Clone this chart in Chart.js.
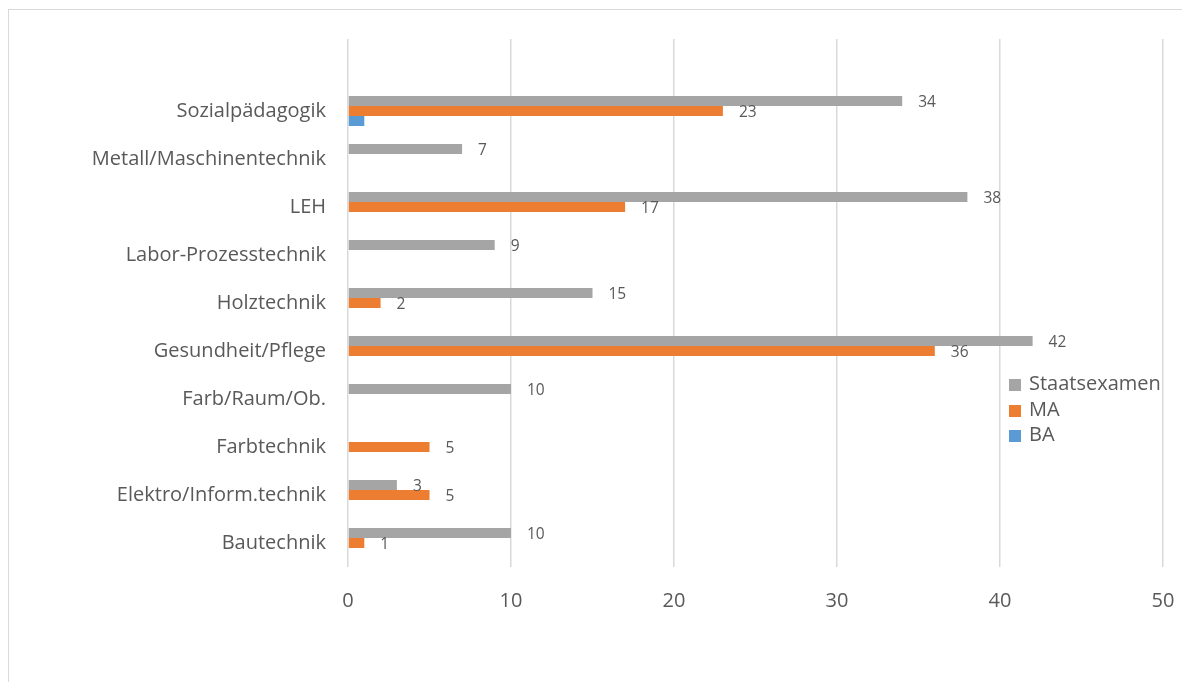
<!DOCTYPE html>
<html>
<head>
<meta charset="utf-8">
<script src="https://cdn.jsdelivr.net/npm/chart.js@4"></script>
<style>
  html, body { margin: 0; padding: 0; background: #fff; }
  .wrap { position: relative; width: 1182px; height: 682px; overflow: hidden; }
  .frame { position: absolute; left: 8px; top: 9px; right: -5px; bottom: -5px;
           border-top: 1px solid #d9d9d9; border-left: 1px solid #d9d9d9; }
  canvas { position: absolute; left: 0; top: 0; }
  .legend { position: absolute; left: 1009px; top: 370px; font-family: "Open Sans", sans-serif;
            font-size: 20px; color: #595959; }
  .legend div { height: 25.5px; line-height: 25.5px; white-space: nowrap; }
  .legend span { display: inline-block; width: 12px; height: 12px; margin-right: 8px;
                 vertical-align: -1px; }
</style>
</head>
<body>
<div class="wrap">
  <div class="frame"></div>
  <canvas id="chart" width="1182" height="682"></canvas>
  <div class="legend" id="legend"></div>
</div>
<script>
// Fächer von oben nach unten (erste Zeile bleibt leer)
const categories = ['', 'Sozialpädagogik', 'Metall/Maschinentechnik', 'LEH', 'Labor-Prozesstechnik',
    'Holztechnik', 'Gesundheit/Pflege', 'Farb/Raum/Ob.', 'Farbtechnik', 'Elektro/Inform.technik', 'Bautechnik'];
const staatsexamen = [null, 34, 7, 38, 9, 15, 42, 10, null, 3, 10];
const ma = [null, 23, null, 17, null, 2, 36, null, 5, 5, 1];
const ba = [null, 1, null, null, null, null, null, null, null, null, null];
const xTicks = [0, 10, 20, 30, 40, 50];

const textColor = '#595959';
const font = '"Open Sans", sans-serif';

// Werte rechts neben die Balken schreiben
const valueLabels = {
    id: 'valueLabels',
    afterDatasetsDraw(chart) {
        const ctx = chart.ctx;
        ctx.save();
        ctx.font = '15.5px ' + font;
        ctx.fillStyle = textColor;
        ctx.textAlign = 'left';
        ctx.textBaseline = 'middle';
        chart.data.datasets.forEach((ds, i) => {
            if (!ds.showValues) return;
            chart.getDatasetMeta(i).data.forEach((bar, j) => {
                const v = ds.data[j];
                if (v === null) return;
                ctx.fillText(String(v), bar.x + 16, bar.y + 1.5);
            });
        });
        ctx.restore();
    }
};

const datasets = [
    { label: 'Staatsexamen', data: staatsexamen, backgroundColor: '#a5a5a5', showValues: true },
    { label: 'MA', data: ma, backgroundColor: '#ed7d31', showValues: true },
    { label: 'BA', data: ba, backgroundColor: '#5b9bd5', showValues: false }
];

new Chart(document.getElementById('chart'), {
    type: 'bar',
    data: { labels: categories, datasets: datasets },
    options: {
        indexAxis: 'y',
        responsive: false,
        animation: false,
        categoryPercentage: 0.625,
        barPercentage: 1,
        layout: { padding: { left: 0, top: 39, right: 19, bottom: 0 } },
        scales: {
            x: {
                min: 0,
                max: 50,
                afterBuildTicks: s => { s.ticks = xTicks.map(v => ({ value: v })); },
                afterFit: s => { s.height = 115; s.paddingRight = 0; s.paddingLeft = 0; },
                border: { display: false },
                grid: { color: '#d9d9d9', lineWidth: 1.5, drawTicks: false },
                ticks: { color: textColor, font: { family: font, size: 20 }, padding: 22 }
            },
            y: {
                afterFit: s => { s.width = 348; },
                border: { display: false },
                grid: { display: false, drawTicks: false },
                ticks: { color: textColor, font: { family: font, size: 20 }, padding: 22 }
            }
        },
        plugins: {
            legend: { display: false },
            tooltip: { enabled: false }
        }
    },
    plugins: [valueLabels]
});

// Legende als HTML
const legendEl = document.getElementById('legend');
datasets.forEach(ds => {
    const row = document.createElement('div');
    const box = document.createElement('span');
    box.style.background = ds.backgroundColor;
    row.appendChild(box);
    row.appendChild(document.createTextNode(ds.label));
    legendEl.appendChild(row);
});
</script>
</body>
</html>
